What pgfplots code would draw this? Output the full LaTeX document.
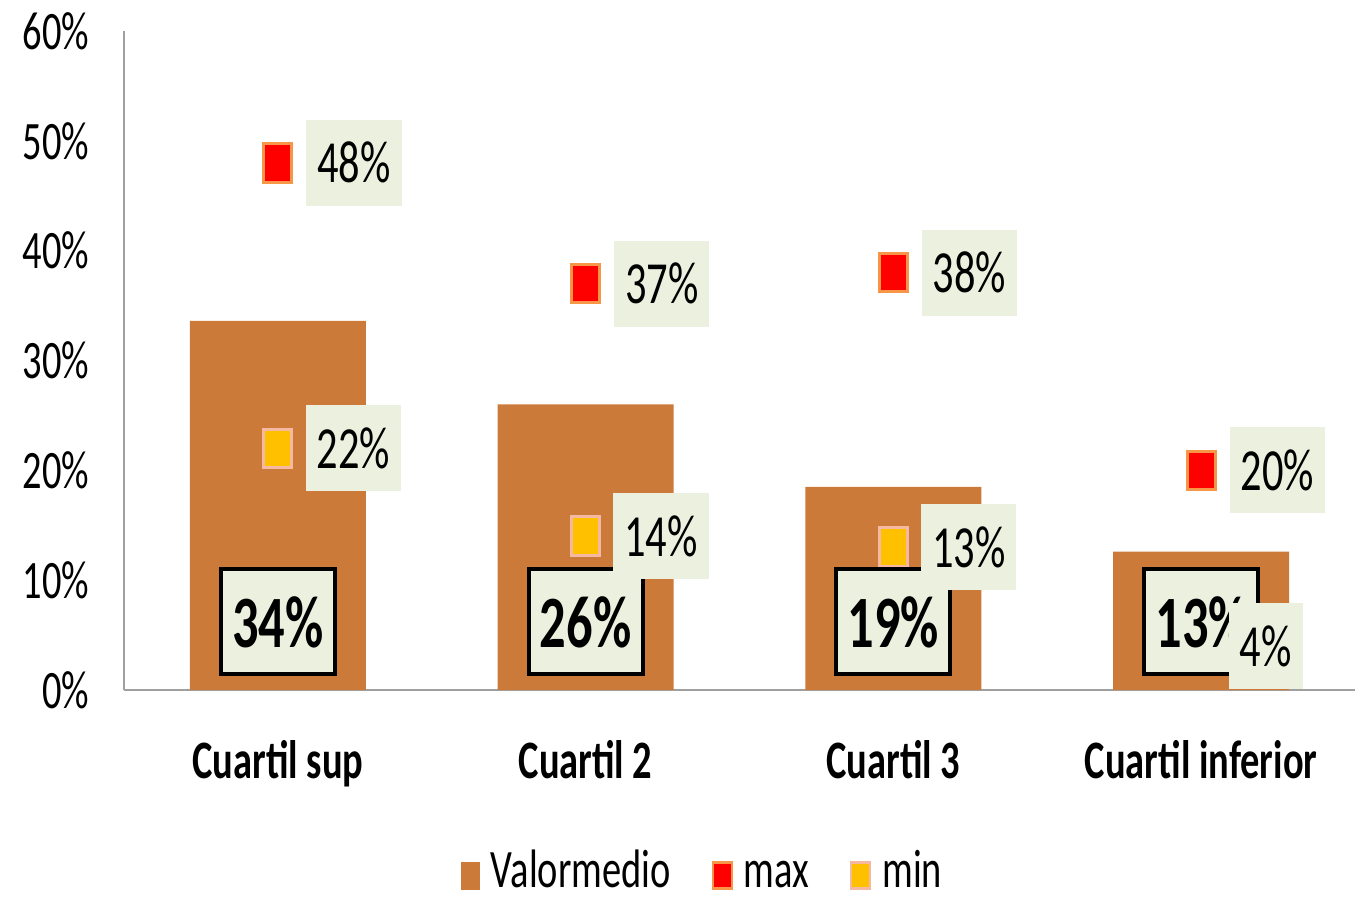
\documentclass[border=0pt]{standalone}
\usepackage{fontspec}
\setmainfont{Carlito}[FakeStretch=0.71]
\usepackage{pgfplots}
\usepackage{pgfplotstable}
\pgfplotsset{compat=1.18}
\definecolor{barbrown}{HTML}{CC7A3A}
\definecolor{lblfill}{HTML}{EBF1DE}
\definecolor{maxred}{HTML}{FF0000}
\definecolor{maxedge}{HTML}{F79646}
\definecolor{minyel}{HTML}{FFC000}
\definecolor{minedge}{HTML}{F5B8A0}
\definecolor{axgray}{HTML}{A0A0A0}
\newcommand\tickfont{\fontsize{15.4pt}{16pt}\selectfont}
\newcommand\lblfont{\fontsize{17pt}{18pt}\selectfont}
\newcommand\barfont{\fontsize{21pt}{22pt}\selectfont\bfseries}

\pgfplotstableread{
x val max min
0 33.6 48 22
1 26.0 37 14
2 18.5 38 13
3 12.6 20 4
}\quartiles

\tikzset{
  vlab/.style={anchor=west,xshift=2.7mm,fill=lblfill,draw=none,inner xsep=1.1mm,inner ysep=0pt,minimum height=8.6mm,font=\lblfont,text=black},
}

\begin{document}
\begin{tikzpicture}
\path[use as bounding box] (-12.4mm,-21mm) rectangle (123.1mm,69mm);
\begin{axis}[
  at={(0,0)},anchor=south west,
  scale only axis,width=123.1mm,height=65.9mm,
  xmin=-0.5,xmax=3.5,ymin=0,ymax=60,
  axis x line*=bottom,axis y line*=left,
  axis line style={draw=axgray,line width=0.8pt,-},
  xtick={0,1,2,3},xticklabels={Cuartil sup,Cuartil 2,Cuartil 3,Cuartil inferior},
  ytick={0,10,...,60},yticklabels={0\%,10\%,20\%,30\%,40\%,50\%,60\%},
  major tick length=0pt,
  xticklabel style={font=\tickfont\bfseries,anchor=base,yshift=-8.8mm},
  yticklabel style={font=\tickfont,anchor=east,inner sep=0pt,xshift=-3.4mm},
  clip=false,
  /pgf/number format/assume math mode=true,
  legend style={at={(0.472,-0.28)},anchor=center,draw=none,fill=none,font=\tickfont,
    legend columns=3,
    nodes={text height=2.8mm,text depth=0pt,inner ysep=0pt},
    /tikz/every odd column/.append style={column sep=0.4mm},
    /tikz/every even column/.append style={column sep=3.4mm}},
  legend cell align=left,
]
\addplot[ybar,bar width=17.6mm,fill=barbrown,draw=none,
  legend image code/.code={\fill[barbrown] (0mm,-1.6mm) rectangle (1.9mm,1.2mm);}]
  table[x=x,y=val]{\quartiles};
\addlegendentry{Valormedio}
\addplot[only marks,mark=square*,mark size=1.4mm,
  mark options={fill=maxred,draw=maxedge,line width=0.85pt,yscale=1.38},
  nodes near coords={\pgfmathprintnumber{\pgfplotspointmeta}\%},point meta=y,
  every node near coord/.append style={vlab},
  legend image code/.code={\draw[fill=maxred,draw=maxedge,line width=0.6pt] (0.1mm,-1.5mm) rectangle (2mm,1.1mm);}]
  table[x=x,y=max]{\quartiles};
\addlegendentry{max}
\addplot[only marks,mark=square*,mark size=1.4mm,
  mark options={fill=minyel,draw=minedge,line width=0.85pt,yscale=1.38},
  legend image code/.code={\draw[fill=minyel,draw=minedge,line width=0.6pt] (0.1mm,-1.5mm) rectangle (2mm,1.1mm);}]
  table[x=x,y=min]{\quartiles};
\addlegendentry{min}
\addplot[draw=none,mark=none,forget plot,nodes near coords,point meta=explicit symbolic,
  every node near coord/.append style={anchor=center,draw=black,line width=1.1pt,fill=lblfill,
    minimum width=11.4mm,minimum height=10.5mm,inner sep=0pt,font=\barfont,text=black}]
  coordinates {(0,6.2) [34\%] (1,6.2) [26\%] (2,6.2) [19\%] (3,6.2) [13\%]};
\addplot[only marks,mark=none,forget plot,
  nodes near coords={\pgfmathprintnumber{\pgfplotspointmeta}\%},point meta=y,
  every node near coord/.append style={vlab}]
  table[x=x,y=min]{\quartiles};
\end{axis}
\end{tikzpicture}
\end{document}
